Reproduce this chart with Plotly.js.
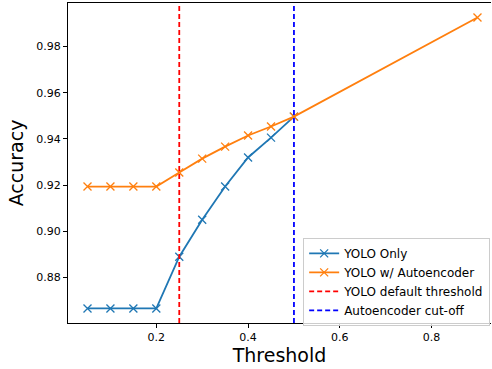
<!DOCTYPE html>
<html><head><meta charset="utf-8">
<script src="https://cdn.plot.ly/plotly-3.0.1.min.js"></script>
<style>html,body{margin:0;padding:0;background:#fff}#c{width:492px;height:369px}</style>
</head><body><div id="c"></div>
<script>
const thresholds = [0.05, 0.1, 0.15, 0.2, 0.25, 0.3, 0.35, 0.4, 0.45, 0.5];
const yoloOnly = [0.8666, 0.8666, 0.8666, 0.8666, 0.889, 0.905, 0.9194, 0.932, 0.9406, 0.9497];
const aeThresholds = [0.05, 0.1, 0.15, 0.2, 0.25, 0.3, 0.35, 0.4, 0.45, 0.5, 0.9];
const yoloAE = [0.9194, 0.9194, 0.9194, 0.9194, 0.9255, 0.9315, 0.9367, 0.9415, 0.9454, 0.9497, 0.9926];
const yoloDefault = 0.25;
const aeCutoff = 0.5;
const yRange = [0.8603, 0.9989];
const xRange = [0.0075, 0.9295];
const yTicks = [0.88, 0.90, 0.92, 0.94, 0.96, 0.98];
const xTicks = [0.2, 0.4, 0.6, 0.8];

const font = {family: 'DejaVu Sans', color: '#000'};
const traces = [
  {x: thresholds, y: yoloOnly, name: 'YOLO Only', mode: 'lines+markers',
   line: {color: '#1f77b4', width: 1.8},
   marker: {symbol: 'x-thin', size: 8, line: {color: '#1f77b4', width: 1.3}}},
  {x: aeThresholds, y: yoloAE, name: 'YOLO w/ Autoencoder', mode: 'lines+markers',
   line: {color: '#ff7f0e', width: 1.8},
   marker: {symbol: 'x-thin', size: 8, line: {color: '#ff7f0e', width: 1.3}}},
  {x: [yoloDefault, yoloDefault], y: yRange, name: 'YOLO default threshold', mode: 'lines',
   line: {color: '#ff0000', width: 1.8, dash: '5px,3px'}},
  {x: [aeCutoff, aeCutoff], y: yRange, name: 'Autoencoder cut-off', mode: 'lines',
   line: {color: '#0000ff', width: 1.8, dash: '5px,3px'}}
];
const layout = {
  width: 492, height: 369,
  margin: {l: 68, r: 1, t: 3, b: 46},
  paper_bgcolor: '#fff', plot_bgcolor: '#fff',
  font: font,
  showlegend: true,
  legend: {x: 0.998, y: 0.266, xanchor: 'right', yanchor: 'top',
    bgcolor: 'rgba(255,255,255,0.8)', bordercolor: '#ccc', borderwidth: 1,
    font: {family: 'DejaVu Sans', size: 12, color: '#000'}, tracegroupgap: 0},
  xaxis: {range: xRange, tickvals: xTicks, ticktext: xTicks.map(v => v.toFixed(1)),
    showgrid: false, zeroline: false, showline: true, mirror: true, linecolor: '#000', linewidth: 1,
    ticks: 'outside', ticklen: 4, tickcolor: '#000', tickfont: {size: 11, family: 'DejaVu Sans'},
    title: {text: 'Threshold', font: {size: 19, family: 'DejaVu Sans'}, standoff: 5}},
  yaxis: {range: yRange, tickvals: yTicks, ticktext: yTicks.map(v => v.toFixed(2)),
    showgrid: false, zeroline: false, showline: true, mirror: false, linecolor: '#000', linewidth: 1,
    ticks: 'outside', ticklen: 4, tickcolor: '#000', tickfont: {size: 11, family: 'DejaVu Sans'},
    title: {text: 'Accuracy', font: {size: 19, family: 'DejaVu Sans'}, standoff: 7}}
};
Plotly.newPlot('c', traces, layout, {displayModeBar: false, staticPlot: true});
</script></body></html>
